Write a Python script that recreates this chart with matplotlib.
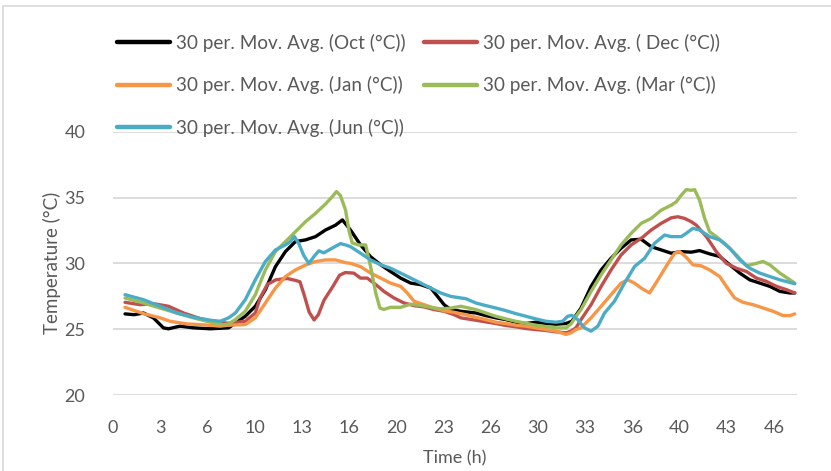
import numpy as np
import matplotlib
matplotlib.use("Agg")
import matplotlib.pyplot as plt
from matplotlib.patches import Rectangle

# 30-period moving averages of temperature (°C) against time (h)
oct_t = [0.85, 1.5, 2.15, 2.85, 3.56, 3.92, 4.74, 5.69, 6.87, 8.16, 9.34, 10.05, 10.76,
         11.47, 12.18, 12.88, 13.59, 14.3, 15.0, 15.71, 16.2, 16.77, 17.48, 18.19, 18.9,
         19.6, 20.31, 21.02, 21.73, 22.44, 22.91, 23.38, 23.85, 24.56, 25.62, 26.33,
         27.03, 27.74, 28.45, 29.16, 29.86, 30.57, 31.28, 31.99, 32.4, 33.05, 33.76,
         34.47, 35.17, 35.88, 36.59, 37.3, 38.0, 38.71, 39.42, 40.13, 40.84, 41.42,
         42.13, 42.84, 43.55, 44.26, 44.96, 45.67, 46.38, 47.09, 47.8, 48.14]
oct_v = [26.16, 26.1, 26.23, 25.86, 25.1, 25.03, 25.23, 25.1, 25.03, 25.1, 25.98, 26.74, 28.0,
         29.75, 30.9, 31.65, 31.78, 32.03, 32.53, 32.9, 33.3, 32.53, 31.4, 30.5, 29.89,
         29.38, 28.88, 28.5, 28.38, 28.12, 27.5, 26.86, 26.49, 26.36, 26.23, 26.03,
         25.86, 25.73, 25.53, 25.43, 25.53, 25.43, 25.38, 25.43, 25.6, 26.61, 28.25,
         29.5, 30.39, 31.15, 31.78, 31.83, 31.27, 31.02, 30.77, 30.89, 30.85, 30.97,
         30.72, 30.52, 29.89, 29.26, 28.75, 28.5, 28.25, 27.87, 27.75, 27.75]

dec_t = [0.85, 1.91, 2.85, 3.92, 4.98, 6.16, 7.34, 8.16, 9.34, 10.05, 10.4, 10.9, 11.5,
         12.3, 12.9, 13.2, 13.5, 13.85, 14.2, 14.5, 14.9, 15.5, 16.0, 16.4, 17.0, 17.48,
         17.95, 18.43, 19.13, 19.84, 20.55, 21.26, 21.97, 22.67, 23.38, 24.09, 24.56,
         25.62, 26.33, 27.03, 27.74, 28.45, 29.16, 29.86, 30.57, 31.28, 31.99, 32.34,
         32.69, 33.05, 33.76, 34.47, 35.17, 35.88, 36.59, 37.3, 38.0, 38.71, 39.42,
         39.89, 40.37, 40.84, 41.19, 41.9, 42.6, 43.31, 44.02, 44.73, 45.43, 46.14,
         46.85, 47.56, 48.14]
dec_v = [27.04, 26.86, 26.94, 26.74, 26.23, 25.8, 25.53, 25.45, 25.6, 26.23, 27.4, 28.4, 28.75,
         28.85, 28.7, 28.6, 27.6, 26.3, 25.7, 26.1, 27.2, 28.2, 29.1, 29.3, 29.26, 28.88,
         28.88, 28.5, 27.87, 27.37, 26.99, 26.79, 26.69, 26.49, 26.36, 26.1, 25.86,
         25.68, 25.55, 25.43, 25.28, 25.18, 25.05, 24.97, 24.9, 24.8, 24.72, 24.85,
         25.1, 25.73, 26.86, 28.25, 29.5, 30.64, 31.4, 31.9, 32.53, 33.04, 33.46,
         33.54, 33.41, 33.16, 32.9, 32.03, 30.89, 30.0, 29.63, 29.38, 28.88, 28.63,
         28.25, 28.0, 27.75]

jan_t = [0.85, 2.15, 3.33, 4.03, 5.21, 6.39, 7.57, 8.16, 9.34, 10.05, 10.76, 11.47, 12.18,
         12.88, 13.59, 14.3, 15.0, 15.71, 16.42, 16.77, 17.48, 18.19, 18.9, 19.6, 20.31,
         20.78, 21.26, 21.97, 22.67, 23.38, 24.09, 24.91, 25.62, 26.33, 27.03, 27.74,
         28.45, 29.16, 29.86, 30.57, 31.28, 31.99, 32.34, 32.69, 33.05, 33.76, 34.47,
         35.17, 35.88, 36.35, 36.82, 37.3, 37.89, 38.48, 39.19, 39.66, 40.01, 40.49,
         40.95, 41.54, 42.13, 42.84, 43.31, 43.9, 44.49, 45.2, 45.9, 46.61, 47.32,
         47.8, 48.14]
jan_v = [26.66, 26.18, 25.86, 25.6, 25.4, 25.33, 25.23, 25.3, 25.35, 25.86, 26.99, 28.12, 29.0,
         29.5, 29.87, 30.14, 30.26, 30.26, 30.05, 30.0, 29.75, 29.26, 28.88, 28.5, 28.25,
         27.75, 27.12, 26.86, 26.6, 26.4, 26.28, 26.1, 25.9, 25.73, 25.53, 25.43,
         25.3, 25.23, 25.1, 24.97, 24.85, 24.6, 24.72, 24.97, 25.1, 25.86, 26.74,
         27.62, 28.5, 28.75, 28.5, 28.12, 27.75, 28.75, 30.0, 30.77, 30.89, 30.45,
         29.89, 29.81, 29.5, 29.0, 28.25, 27.37, 27.04, 26.86, 26.61, 26.36, 26.03,
         26.03, 26.16]

mar_t = [0.85, 2.15, 3.33, 4.5, 5.69, 6.87, 7.81, 8.16, 8.64, 9.34, 10.05, 10.76, 11.47,
         12.18, 12.88, 13.59, 14.3, 15.0, 15.47, 15.78, 16.06, 16.42, 16.66, 16.89, 17.36,
         17.84, 18.19, 18.55, 18.85, 19.13, 19.6, 20.31, 21.02, 21.73, 22.44, 23.14,
         23.85, 24.56, 25.62, 26.33, 27.03, 27.74, 28.45, 29.16, 29.86, 30.57, 31.28,
         31.99, 32.34, 32.69, 33.05, 33.76, 34.47, 35.17, 35.88, 36.59, 37.3, 38.0,
         38.71, 39.42, 39.77, 40.13, 40.48, 40.84, 41.07, 41.42, 41.78, 42.13, 42.6,
         43.31, 44.02, 44.73, 45.43, 45.9, 46.38, 47.09, 47.8, 48.14]
mar_v = [27.37, 26.99, 26.6, 26.23, 25.86, 25.53, 25.33, 25.4, 25.73, 26.36, 27.62, 29.5, 30.9,
         31.65, 32.4, 33.16, 33.8, 34.5, 35.05, 35.45, 35.15, 34.05, 32.5, 31.55, 31.4,
         31.4, 29.75, 27.75, 26.6, 26.5, 26.66, 26.66, 26.9, 26.8, 26.66, 26.54,
         26.6, 26.74, 26.49, 26.23, 25.98, 25.78, 25.6, 25.45, 25.3, 25.2, 25.1,
         25.1, 25.4, 25.98, 26.49, 27.87, 29.13, 30.26, 31.4, 32.28, 33.04, 33.41,
         34.04, 34.42, 34.67, 35.18, 35.6, 35.55, 35.6, 34.8, 33.41, 32.4, 32.03,
         31.4, 30.64, 29.81, 30.0, 30.14, 29.89, 29.26, 28.75, 28.5]

jun_t = [0.85, 2.15, 3.33, 4.5, 5.69, 6.87, 7.57, 8.16, 8.64, 9.34, 10.05, 10.76, 11.47,
         12.18, 12.53, 12.81, 13.12, 13.47, 13.83, 14.18, 14.53, 14.89, 15.47, 16.06,
         16.42, 16.77, 17.48, 18.19, 18.9, 19.6, 20.31, 21.02, 21.73, 22.44, 23.14, 23.85,
         24.56, 24.91, 25.62, 26.33, 27.03, 27.74, 28.45, 29.16, 29.86, 30.57, 31.28,
         31.75, 32.1, 32.4, 32.81, 33.29, 33.76, 34.24, 34.71, 35.41, 36.12, 36.83,
         37.54, 38.24, 38.95, 39.42, 40.13, 40.48, 40.95, 41.42, 42.13, 42.84, 43.55,
         44.26, 44.96, 45.67, 46.38, 47.09, 47.8, 48.14]
jun_v = [27.62, 27.24, 26.74, 26.23, 25.9, 25.68, 25.6, 25.86, 26.23, 27.24, 28.75, 30.14, 31.02,
         31.4, 31.65, 32.03, 31.5, 30.6, 30.0, 30.5, 30.95, 30.8, 31.15, 31.5,
         31.4, 31.27, 30.77, 30.26, 29.89, 29.63, 29.26, 28.88, 28.5, 28.12, 27.75, 27.49,
         27.37, 27.32, 26.99, 26.79, 26.61, 26.41, 26.18, 25.98, 25.78, 25.6, 25.53,
         25.6, 25.98, 26.05, 25.73, 25.1, 24.85, 25.23, 26.23, 27.12, 28.5, 29.76,
         30.39, 31.52, 32.15, 32.03, 32.03, 32.28, 32.66, 32.53, 32.03, 31.78, 31.15,
         30.26, 29.63, 29.26, 29.0, 28.75, 28.55, 28.45]

series = [
    ("30 per. Mov. Avg. (Oct (°C))", oct_t, oct_v, "#000000"),
    ("30 per. Mov. Avg. ( Dec (°C))", dec_t, dec_v, "#C0504D"),
    ("30 per. Mov. Avg. (Jan (°C))", jan_t, jan_v, "#F79646"),
    ("30 per. Mov. Avg. (Mar (°C))", mar_t, mar_v, "#9BBB59"),
    ("30 per. Mov. Avg. (Jun (°C))", jun_t, jun_v, "#4BACC6"),
]

x_ticks = np.arange(0, 48, 10 / 3)
x_labels = [str(int(v + 1e-9)) for v in x_ticks]
y_ticks = [20, 25, 30, 35, 40]

W, H = 831, 471
plt.rcParams["font.family"] = ["Lato", "DejaVu Sans"]
text_color = "#595959"
grid_color = "#D9D9D9"

fig = plt.figure(figsize=(W / 100, H / 100), dpi=100)
ax = fig.add_axes([113 / W, 1 - 395 / H, (797 - 113) / W, (395 - 131.7) / H])

lines = {}
for name, t, v, c in series:
    ln, = ax.plot(t, v, color=c, lw=2.4, solid_capstyle="round", solid_joinstyle="round",
                  label=name, zorder=3)
    lines[name] = ln

ax.set_xlim(0, 48.3)
ax.set_ylim(20, 40)
ax.set_xticks(x_ticks)
ax.set_xticklabels(x_labels)
ax.set_yticks(y_ticks)
ax.yaxis.grid(True, color=grid_color, lw=1.3, zorder=0)
ax.set_axisbelow(True)
for s in ax.spines.values():
    s.set_visible(False)
ax.tick_params(axis="both", length=0, labelsize=13, colors=text_color)
ax.tick_params(axis="y", pad=20)
ax.tick_params(axis="x", pad=18)
ax.set_xlabel("Time (h)", fontsize=13, color=text_color, labelpad=10)
ax.set_ylabel("Temperature (°C)", fontsize=13.5, color=text_color, labelpad=2)

# legend laid out in two columns, filled row by row
order = [series[0][0], series[2][0], series[4][0], series[1][0], series[3][0]]
leg = fig.legend([lines[n] for n in order], order, ncol=2, loc="upper left",
                 bbox_to_anchor=(117 / W, 1 - 33.5 / H), frameon=False, fontsize=13.6,
                 handlelength=2.8, handletextpad=0.3, columnspacing=1.0,
                 labelspacing=1.3, borderpad=0, borderaxespad=0)
for txt in leg.get_texts():
    txt.set_color(text_color)
for h in leg.legend_handles:
    h.set_linewidth(3.2)

# chart-area outline
fig.patches.append(Rectangle((3.5 / W, -0.1), 2, 1 - 6 / H + 0.1, transform=fig.transFigure,
                             fill=False, edgecolor=grid_color, lw=1.2))

fig.savefig("out.png", dpi=100)
